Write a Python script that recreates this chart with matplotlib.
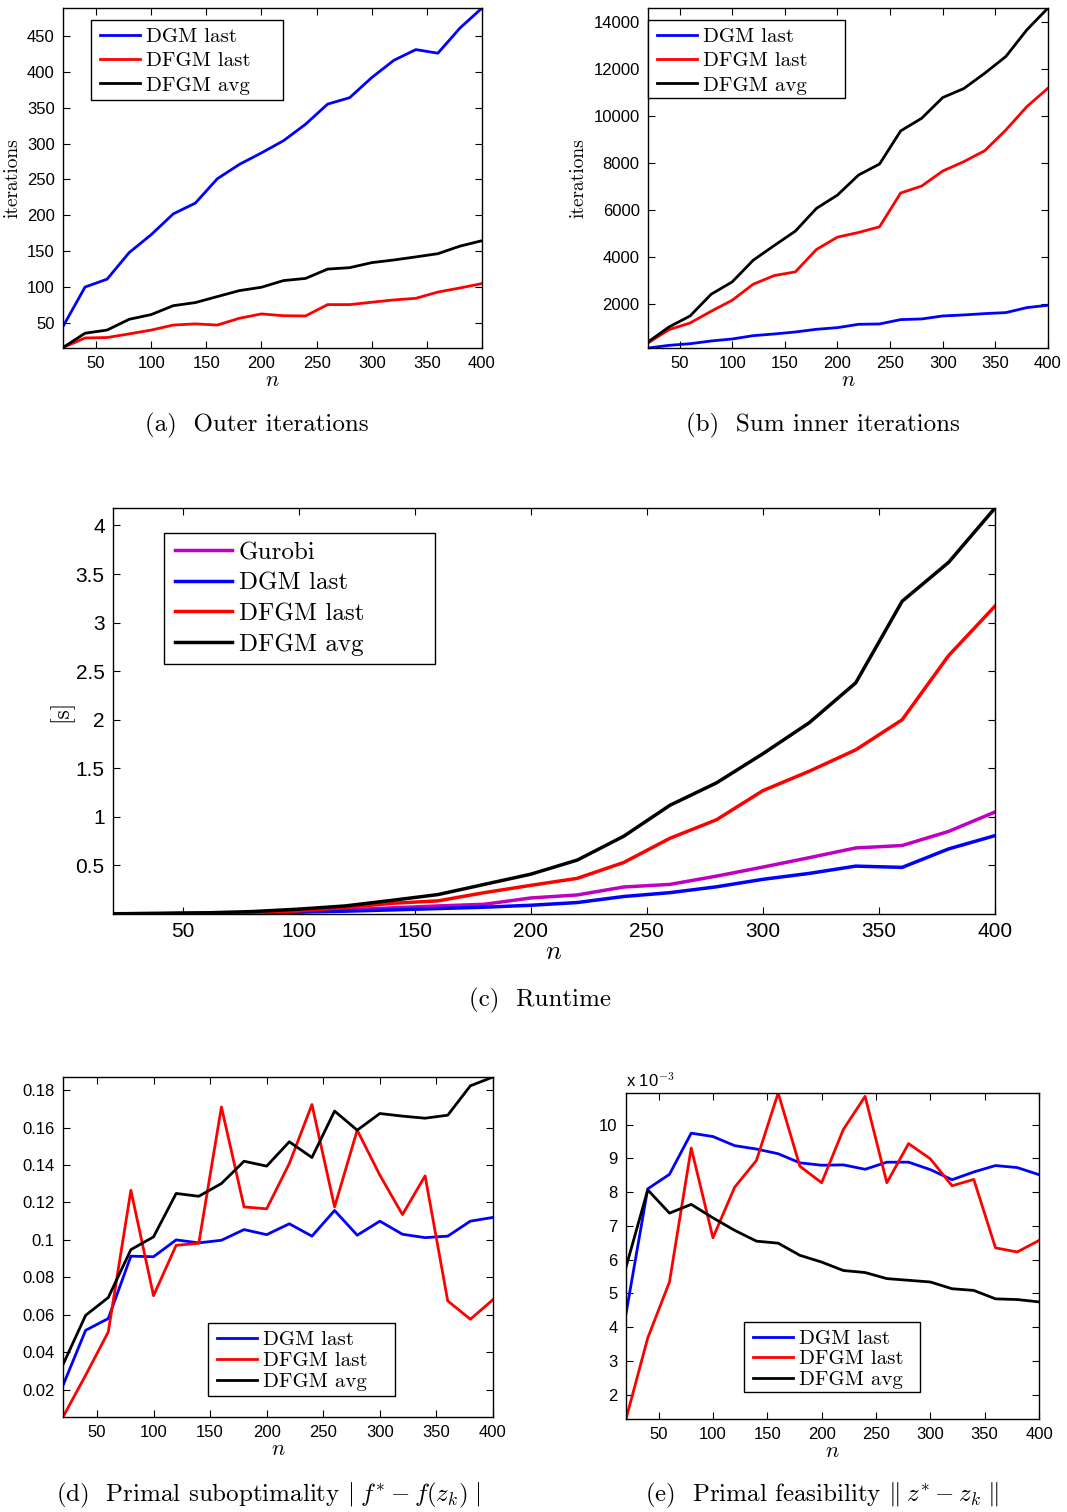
import matplotlib
matplotlib.use("Agg")
import matplotlib.pyplot as plt
from matplotlib.patches import Rectangle
from matplotlib.ticker import FuncFormatter
import numpy as np

n = np.arange(20, 401, 20)

# (a) outer iterations
outer_dgm = [45, 100, 111, 148, 173, 202, 217, 251, 271, 287,
             304, 327, 355, 364, 392, 416, 431, 426, 461, 489]
outer_dfgm_last = [15.7, 29, 29.6, 34.7, 40, 47, 48.6, 47, 56.5, 62.5,
                   60, 59.7, 75.5, 75.5, 78.8, 82, 84.3, 93, 98.7, 104.8]
outer_dfgm_avg = [15.7, 35.6, 40, 55, 61.6, 74, 78.3, 86.7, 95, 99.7,
                  109, 112, 125, 127, 134, 137.7, 142, 146.5, 157, 164.6]

# (b) sum of inner iterations
inner_dgm = [107, 220, 290, 406, 491, 633, 705, 790, 904, 975,
             1117, 1132, 1317, 1345, 1473, 1516, 1573, 1616, 1829, 1929]
inner_dfgm_last = [320, 890, 1174, 1673, 2142, 2826, 3196, 3352, 4306, 4833,
                   5032, 5274, 6712, 7011, 7651, 8050, 8520, 9402, 10399, 11181]
inner_dfgm_avg = [363, 1004, 1473, 2399, 2925, 3851, 4477, 5089, 6057, 6626,
                  7480, 7950, 9359, 9900, 10783, 11167, 11822, 12534, 13673, 14598]

# (c) runtime [s]
rt_gurobi = [0.003, 0.005, 0.008, 0.015, 0.025, 0.042, 0.063, 0.083, 0.10, 0.165,
             0.196, 0.278, 0.305, 0.39, 0.483, 0.58, 0.68, 0.705, 0.85, 1.05]
rt_dgm = [0.002, 0.004, 0.007, 0.012, 0.019, 0.029, 0.042, 0.056, 0.07, 0.09,
          0.118, 0.18, 0.22, 0.28, 0.357, 0.418, 0.493, 0.48, 0.67, 0.807]
rt_dfgm_last = [0.002, 0.004, 0.008, 0.015, 0.032, 0.066, 0.11, 0.135, 0.22, 0.295,
                0.367, 0.53, 0.78, 0.97, 1.27, 1.47, 1.69, 2.0, 2.66, 3.17]
rt_dfgm_avg = [0.002, 0.005, 0.012, 0.025, 0.05, 0.083, 0.14, 0.20, 0.305, 0.41,
               0.555, 0.80, 1.12, 1.35, 1.65, 1.97, 2.38, 3.22, 3.62, 4.18]

# (d) primal suboptimality
sub_dgm = [0.0223, 0.0517, 0.058, 0.0913, 0.091, 0.100, 0.0984, 0.0998, 0.1055, 0.1028,
           0.1086, 0.102, 0.1157, 0.1025, 0.110, 0.103, 0.1012, 0.102, 0.110, 0.112]
sub_dfgm_last = [0.0054, 0.0277, 0.0508, 0.1265, 0.0702, 0.0971, 0.0982, 0.171, 0.1176, 0.1166,
                 0.1408, 0.1723, 0.1176, 0.1586, 0.1346, 0.1135, 0.1342, 0.0674, 0.0576, 0.0681]
sub_dfgm_avg = [0.0334, 0.0597, 0.0692, 0.0948, 0.1016, 0.1248, 0.1233, 0.1301, 0.142, 0.1394,
                0.1524, 0.144, 0.1688, 0.1586, 0.1675, 0.1661, 0.165, 0.1666, 0.1823, 0.187]

# (e) primal feasibility (x 1e-3)
feas_dgm = np.array([4.4, 8.1, 8.53, 9.75, 9.65, 9.38, 9.28, 9.14, 8.87, 8.80,
                     8.81, 8.68, 8.89, 8.89, 8.67, 8.37, 8.60, 8.79, 8.73, 8.52]) * 1e-3
feas_dfgm_last = np.array([1.28, 3.68, 5.34, 9.31, 6.65, 8.15, 8.94, 10.94, 8.77, 8.28,
                           9.86, 10.84, 8.28, 9.44, 8.99, 8.19, 8.38, 6.35, 6.23, 6.57]) * 1e-3
feas_dfgm_avg = np.array([5.78, 8.07, 7.38, 7.64, 7.24, 6.87, 6.55, 6.49, 6.13, 5.93,
                          5.68, 5.62, 5.44, 5.39, 5.34, 5.14, 5.09, 4.84, 4.82, 4.75]) * 1e-3

plt.rc("font", family="Liberation Sans")
plt.rc("mathtext", fontset="cm")
plt.rc("axes", linewidth=1.0)
plt.rc("xtick", direction="in", top=True)
plt.rc("ytick", direction="in", right=True)

W, H = 1067, 1512
fig = plt.figure(figsize=(W / 100, H / 100), dpi=100)


def fx(x):
    return x / W


def fy(y):
    return 1 - y / H


def add_ax(x0, y0, x1, y1):
    return fig.add_axes([fx(x0), fy(y1), (x1 - x0) / W, (y1 - y0) / H])


def style(ax, ylim, yticks, tsize, fmt="%g"):
    ax.set_xlim(20, 400)
    ax.set_ylim(*ylim)
    ax.set_xticks(range(50, 401, 50))
    ax.set_yticks(yticks)
    ax.yaxis.set_major_formatter(FuncFormatter(lambda v, p: fmt % v))
    ax.tick_params(labelsize=tsize, length=5, width=0.8, pad=6)
    ax.set_xlabel("$n$", fontsize=tsize + 4, labelpad=-1)


def legend(ax, box, size, handlelength=1.9, labelspacing=0.28):
    # white boxed frame with the entries placed inside it
    x0, y0, x1, y1 = box
    ax.add_patch(Rectangle((fx(x0), fy(y1)), (x1 - x0) / W, (y1 - y0) / H,
                           transform=fig.transFigure, facecolor="white",
                           edgecolor="black", lw=1.0, zorder=4, clip_on=False))
    ax.legend(loc="upper left", bbox_to_anchor=(fx(x0 + 3), fy(y0 + 1)),
              bbox_transform=fig.transFigure, borderaxespad=0, frameon=False,
              prop={"family": "cmr10", "size": size}, handlelength=handlelength,
              labelspacing=labelspacing, handletextpad=0.28, borderpad=0.3)


def caption(x, y, s):
    fig.text(fx(x), fy(y), s, ha="center", va="center",
             family="cmr10", fontsize=18)


lw = 2.0

# (a)
ax = add_ax(63, 8, 482, 348)
ax.plot(n, outer_dgm, "b-", lw=lw, label="DGM last")
ax.plot(n, outer_dfgm_last, "r-", lw=lw, label="DFGM last")
ax.plot(n, outer_dfgm_avg, "k-", lw=lw, label="DFGM avg")
style(ax, (15, 489), range(50, 451, 50), 12)
ax.set_ylabel("iterations", family="cmr10", fontsize=14, labelpad=4)
legend(ax, (91, 20, 283, 100), 15)
caption(257, 425, "(a)  Outer iterations")

# (b)
ax = add_ax(648, 8, 1048, 348)
ax.plot(n, inner_dgm, "b-", lw=lw, label="DGM last")
ax.plot(n, inner_dfgm_last, "r-", lw=lw, label="DFGM last")
ax.plot(n, inner_dfgm_avg, "k-", lw=lw, label="DFGM avg")
style(ax, (107, 14600), range(2000, 14001, 2000), 12)
ax.set_ylabel("iterations", family="cmr10", fontsize=14, labelpad=4)
legend(ax, (648, 20, 845, 98), 15)
caption(823, 425, "(b)  Sum inner iterations")

# (c)
ax = add_ax(113, 508, 995, 914)
ax.plot(n, rt_gurobi, "-", color="#c000c0", lw=2.5, label="Gurobi")
ax.plot(n, rt_dgm, "b-", lw=2.5, label="DGM last")
ax.plot(n, rt_dfgm_last, "r-", lw=2.5, label="DFGM last")
ax.plot(n, rt_dfgm_avg, "k-", lw=2.5, label="DFGM avg")
style(ax, (0, 4.18), np.arange(0.5, 4.01, 0.5), 15)
ax.set_ylabel("[s]", family="cmr10", fontsize=17, labelpad=2)
legend(ax, (164, 533, 435, 664), 18, handlelength=2.3, labelspacing=0.32)
caption(540, 1000, "(c)  Runtime")

# (d)
ax = add_ax(63, 1077, 493, 1417)
ax.plot(n, sub_dgm, "b-", lw=lw, label="DGM last")
ax.plot(n, sub_dfgm_last, "r-", lw=lw, label="DFGM last")
ax.plot(n, sub_dfgm_avg, "k-", lw=lw, label="DFGM avg")
style(ax, (0.0054, 0.187), np.arange(0.02, 0.181, 0.02), 12)
legend(ax, (208, 1323, 395, 1396), 15, labelspacing=0.12)
caption(268, 1495, r"(d)  Primal suboptimality $|\;f^{*} - f(z_k)\;|$")

# (e)
ax = add_ax(626, 1093, 1039, 1419)
ax.plot(n, feas_dgm, "b-", lw=lw, label="DGM last")
ax.plot(n, feas_dfgm_last, "r-", lw=lw, label="DFGM last")
ax.plot(n, feas_dfgm_avg, "k-", lw=lw, label="DFGM avg")
style(ax, (1.28e-3, 10.94e-3), np.arange(2, 10.1, 1) * 1e-3, 12)
ax.yaxis.set_major_formatter(FuncFormatter(lambda v, p: "%g" % round(v * 1e3, 6)))
ax.text(0.0, 1.01, r"x 10$^{-3}$", transform=ax.transAxes, fontsize=12,
        ha="left", va="bottom")
legend(ax, (744, 1322, 920, 1392), 15, labelspacing=0.1)
caption(822, 1495, r"(e)  Primal feasibility $\Vert\;z^{*} - z_k\;\Vert$")

fig.savefig("out.png", dpi=100)
